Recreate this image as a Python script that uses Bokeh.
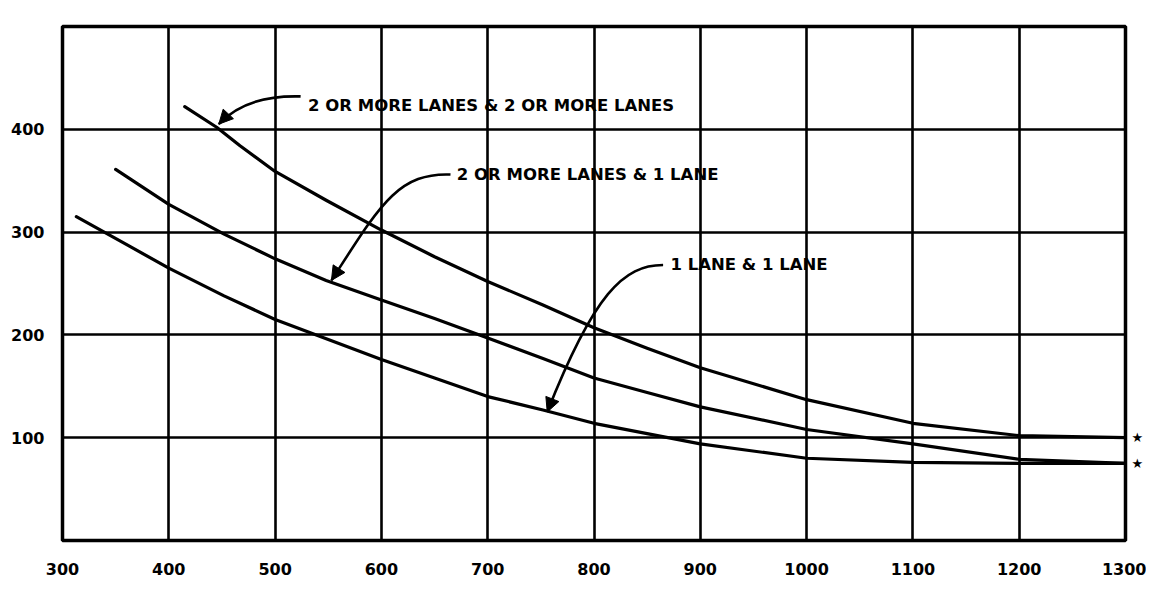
from bokeh.plotting import figure
from bokeh.models import Arrow, NormalHead, FixedTicker, LinearAxis
from bokeh.core.properties import value
from bokeh.embed import file_html
from bokeh.resources import INLINE

# ---- data ----
x_ticks = [300, 400, 500, 600, 700, 800, 900, 1000, 1100, 1200, 1300]
y_ticks = [100, 200, 300, 400]

# 2 or more lanes & 2 or more lanes
a_x = [415, 445, 467, 500, 548, 600, 650, 700, 752, 800, 850, 900, 1000, 1100, 1200, 1300]
a_y = [422, 402, 384, 359, 331, 302, 276, 252, 229, 207, 187, 168, 137, 114, 102, 100]

# 2 or more lanes & 1 lane
b_x = [350, 400, 452, 500, 548, 600, 650, 700, 752, 800, 850, 900, 1000, 1100, 1200, 1300]
b_y = [361, 327, 298, 274, 253, 234, 216, 197, 177, 158, 144, 130, 108, 94, 79, 75]

# 1 lane & 1 lane
c_x = [313, 360, 400, 452, 500, 600, 650, 700, 752, 800, 850, 900, 1000, 1100, 1200, 1300]
c_y = [315, 288, 265, 238, 215, 176, 158, 140, 127, 114, 104, 94, 80, 76, 75, 75]

# labels and their curved leaders
labels = ["2 OR MORE LANES & 2 OR MORE LANES", "2 OR MORE LANES & 1 LANE", "1 LANE & 1 LANE"]
label_x = [531, 671, 872]
label_y = [423, 356, 268]
lead_x0 = [524, 665, 865]
lead_y0 = [432, 356, 268]
lead_cx0 = [490, 615, 828]
lead_cy0 = [433, 358, 268]
lead_cx1 = [465, 598, 800]
lead_cy1 = [425, 325, 240]
lead_x1 = [447, 553, 756]
lead_y1 = [405, 253, 125]

# lower threshold volumes marked with a star at the right edge
star_y = [100, 75]
star_text = ["\u2605", "\u2605"]

p = figure(width=1146, height=583, x_range=(300, 1300), y_range=(0, 500),
           output_backend="svg", toolbar_location=None)
p.min_border_left = 62
p.min_border_right = 17
p.min_border_top = 26
p.min_border_bottom = 43
p.background_fill_color = "white"
p.border_fill_color = "white"
p.outline_line_color = "black"
p.outline_line_width = 3.5

p.xaxis.ticker = FixedTicker(ticks=x_ticks)
p.yaxis.ticker = FixedTicker(ticks=y_ticks)
p.xgrid.ticker = FixedTicker(ticks=x_ticks)
p.ygrid.ticker = FixedTicker(ticks=y_ticks)
for g in (p.xgrid, p.ygrid):
    g.grid_line_color = "black"
    g.grid_line_width = 2.6
    g.grid_line_alpha = 1.0

star_axis = LinearAxis(ticker=FixedTicker(ticks=star_y),
                       major_label_overrides={y: s for y, s in zip(star_y, star_text)})
p.add_layout(star_axis, "right")

for ax in (p.xaxis[0], p.yaxis[0], star_axis):
    ax.axis_line_color = None
    ax.major_tick_line_color = None
    ax.minor_tick_line_color = None
    ax.major_tick_out = 0
    ax.major_tick_in = 0
    ax.major_label_text_font = "DejaVu Sans"
    ax.major_label_text_font_style = "bold"
    ax.major_label_text_font_size = "16px"
    ax.major_label_text_color = "black"
p.xaxis[0].major_label_standoff = 22
p.yaxis[0].major_label_standoff = 18
star_axis.major_label_standoff = 6
star_axis.major_label_text_font_size = "13px"
star_axis.major_label_text_font_style = "normal"

for xs, ys in ((a_x, a_y), (b_x, b_y), (c_x, c_y)):
    p.line(xs, ys, line_color="black", line_width=3.2, line_join="round", line_cap="round")

p.bezier(x0=lead_x0, y0=lead_y0, x1=lead_x1, y1=lead_y1,
         cx0=lead_cx0, cy0=lead_cy0, cx1=lead_cx1, cy1=lead_cy1,
         line_color="black", line_width=2.6)

for i in range(len(labels)):
    sx = lead_x1[i] + 0.08 * (lead_cx1[i] - lead_x1[i])
    sy = lead_y1[i] + 0.08 * (lead_cy1[i] - lead_y1[i])
    p.add_layout(Arrow(end=NormalHead(size=14, fill_color="black", line_color="black"),
                       x_start=sx, y_start=sy, x_end=lead_x1[i], y_end=lead_y1[i],
                       line_width=2.6, line_color="black"))

p.text(x=label_x, y=label_y, text=labels, text_font=value("DejaVu Sans"),
       text_font_style="bold", text_font_size="16.5px", text_baseline="middle",
       text_align="left", text_color="black")

open("out.html", "w").write(file_html(p, INLINE))
